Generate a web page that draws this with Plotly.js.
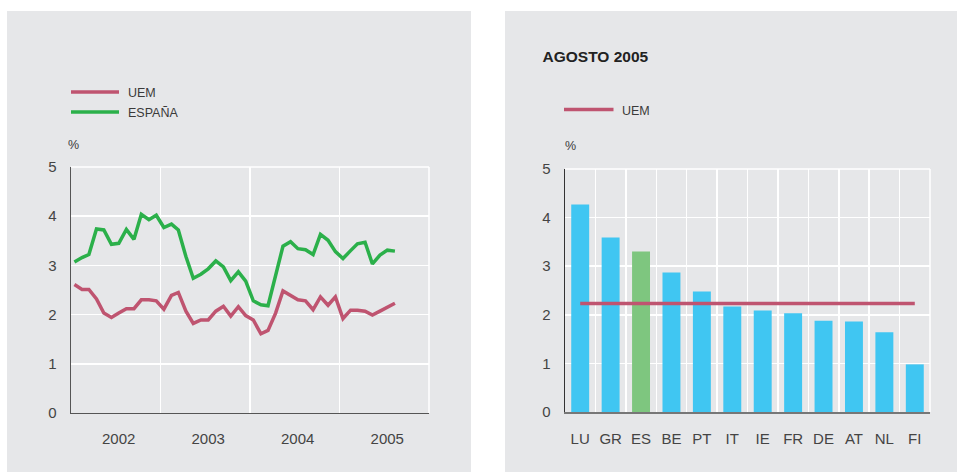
<!DOCTYPE html>
<html>
<head>
<meta charset="utf-8">
<script src="https://cdn.plot.ly/plotly-3.0.1.min.js"></script>
<style>
  html, body { margin: 0; padding: 0; background: #ffffff; width: 958px; height: 472px; overflow: hidden; }
  #left { position: absolute; left: 7px; top: 11px; width: 464px; height: 461px; }
  #right { position: absolute; left: 505px; top: 11px; width: 452px; height: 461px; }
</style>
</head>
<body>
<div id="left"></div>
<div id="right"></div>
<script>
// ---------------- DATA ----------------
// Monthly series, Jan 2002 - Aug 2005 (%)
var startYear = 2002, startMonth = 1;
var uemSeries = [2.61, 2.51, 2.51, 2.32, 2.03, 1.94, 2.03, 2.12, 2.12, 2.30, 2.30, 2.28,
                 2.11, 2.39, 2.45, 2.07, 1.82, 1.89, 1.89, 2.07, 2.17, 1.97, 2.16, 1.98,
                 1.89, 1.61, 1.68, 2.03, 2.48, 2.39, 2.30, 2.28, 2.10, 2.36, 2.19, 2.36,
                 1.92, 2.09, 2.09, 2.07, 1.99, 2.07, 2.15, 2.23];
var espanaSeries = [3.07, 3.16, 3.22, 3.74, 3.72, 3.43, 3.45, 3.73, 3.53, 4.04, 3.93, 4.02,
                    3.77, 3.84, 3.72, 3.18, 2.74, 2.82, 2.93, 3.09, 2.97, 2.69, 2.87, 2.68,
                    2.28, 2.20, 2.18, 2.77, 3.39, 3.48, 3.34, 3.32, 3.22, 3.63, 3.51, 3.28,
                    3.14, 3.30, 3.44, 3.47, 3.03, 3.21, 3.31, 3.29];
var seriesNames = ['UEM', 'ESPAÑA'];

// August 2005 by country (%)
var countries = ['LU', 'GR', 'ES', 'BE', 'PT', 'IT', 'IE', 'FR', 'DE', 'AT', 'NL', 'FI'];
var countryValues = [4.27, 3.59, 3.30, 2.87, 2.48, 2.17, 2.09, 2.03, 1.88, 1.86, 1.64, 0.98];
var uemAugust = 2.23;
var rightTitle = 'AGOSTO 2005';
var unitLabel = '%';

// ---------------- STYLE ----------------
var FONT = 'Liberation Sans, Arial, Helvetica, sans-serif';
var BG = '#E6E7E9';
var GRID = '#ffffff';
var RED = '#BF5470';
var GREEN = '#2BB04A';
var BLUE = '#40C6F2';
var ESGREEN = '#7EC67F';
var TXT = '#3a3a3a';

// monthly dates (mid-month)
var months = [];
for (var i = 0; i < uemSeries.length; i++) {
  var m = startMonth - 1 + i;
  var y = startYear + Math.floor(m / 12);
  var mm = (m % 12) + 1;
  months.push(y + '-' + (mm < 10 ? '0' + mm : mm) + '-15');
}

function px(xPix, m, w) { return (xPix - m.l) / (w - m.l - m.r); }
function py(yPix, m, h) { return 1 - (yPix - m.t) / (h - m.t - m.b); }

// frame lines on top and right edges of plot area (grid at range ends)
var edgeShapes = [
  { type: 'line', xref: 'paper', yref: 'paper', x0: 0, x1: 1, y0: 1, y1: 1,
    layer: 'below', line: { color: GRID, width: 1.5 } },
  { type: 'line', xref: 'paper', yref: 'paper', x0: 1, x1: 1, y0: 0, y1: 1,
    layer: 'below', line: { color: GRID, width: 1.5 } }
];

// ---------------- LEFT CHART ----------------
var LW = 464, LH = 461;
var LM = { l: 64, r: 42, t: 156, b: 59 };

var leftTraces = [
  { type: 'scatter', mode: 'lines', x: months, y: uemSeries, name: seriesNames[0],
    line: { color: RED, width: 3.5 }, hoverinfo: 'skip' },
  { type: 'scatter', mode: 'lines', x: months, y: espanaSeries, name: seriesNames[1],
    line: { color: GREEN, width: 3.5 }, hoverinfo: 'skip' }
];

var leftLayout = {
  width: LW, height: LH, margin: LM,
  paper_bgcolor: BG, plot_bgcolor: BG,
  showlegend: false,
  font: { family: FONT, color: TXT },
  xaxis: {
    type: 'date', range: ['2002-01-01', '2006-01-01'],
    tick0: '2002-01-01', dtick: 'M12', tickformat: '%Y', ticklabelmode: 'period',
    showgrid: true, gridcolor: GRID, gridwidth: 1.5,
    showline: true, linecolor: '#555555', linewidth: 1.3,
    ticks: '', ticklabelstandoff: 12, ticklabelshift: 3, tickangle: 0,
    tickfont: { family: FONT, size: 15, color: '#444444' },
    zeroline: false, fixedrange: true
  },
  yaxis: {
    range: [0, 5], dtick: 1, tick0: 0,
    showgrid: true, gridcolor: GRID, gridwidth: 1.5,
    showline: true, linecolor: '#555555', linewidth: 1.3,
    ticks: '', ticklabelstandoff: 10,
    tickfont: { family: FONT, size: 15, color: '#444444' },
    zeroline: false, fixedrange: true
  },
  shapes: edgeShapes.concat([
    { type: 'line', xref: 'paper', yref: 'paper', x0: px(64, LM, LW), x1: px(112, LM, LW),
      y0: py(81, LM, LH), y1: py(81, LM, LH), line: { color: RED, width: 3.5 } },
    { type: 'line', xref: 'paper', yref: 'paper', x0: px(64, LM, LW), x1: px(112, LM, LW),
      y0: py(101, LM, LH), y1: py(101, LM, LH), line: { color: GREEN, width: 3.5 } }
  ]),
  annotations: [
    { text: seriesNames[0], xref: 'paper', yref: 'paper', x: px(119, LM, LW), y: py(82, LM, LH),
      xanchor: 'left', yanchor: 'middle', showarrow: false, font: { family: FONT, size: 12.5, color: TXT } },
    { text: seriesNames[1], xref: 'paper', yref: 'paper', x: px(119, LM, LW), y: py(102, LM, LH),
      xanchor: 'left', yanchor: 'middle', showarrow: false, font: { family: FONT, size: 12.5, color: TXT } },
    { text: unitLabel, xref: 'paper', yref: 'paper', x: px(59, LM, LW), y: py(134, LM, LH),
      xanchor: 'left', yanchor: 'middle', showarrow: false, font: { family: FONT, size: 12.5, color: TXT } }
  ]
};

Plotly.newPlot('left', leftTraces, leftLayout, { staticPlot: true, displayModeBar: false });

// ---------------- RIGHT CHART ----------------
var RW = 452, RH = 461;
var RM = { l: 60, r: 27, t: 158, b: 60 };

var barColors = countries.map(function (c) { return c === 'ES' ? ESGREEN : BLUE; });

var rightTraces = [
  { type: 'bar', x: countries, y: countryValues, marker: { color: barColors, line: { width: 0 } },
    hoverinfo: 'skip', name: 'países' },
  { type: 'scatter', mode: 'lines', x: [countries[0], countries[countries.length - 1]],
    y: [uemAugust, uemAugust], name: 'UEM', line: { color: RED, width: 3.5 }, hoverinfo: 'skip' }
];

var rightLayout = {
  width: RW, height: RH, margin: RM,
  paper_bgcolor: BG, plot_bgcolor: BG,
  showlegend: false,
  bargap: 0.41,
  font: { family: FONT, color: TXT },
  title: {
    text: rightTitle, xref: 'container', yref: 'container',
    x: 37.5 / RW, xanchor: 'left', y: 1 - 46 / RH, yanchor: 'middle',
    font: { family: FONT, size: 15.5, color: '#222222', weight: 'bold' }
  },
  xaxis: {
    type: 'category', range: [-0.5, countries.length - 0.5], tickson: 'boundaries',
    showgrid: true, gridcolor: GRID, gridwidth: 1.5,
    showline: true, linecolor: '#777777', linewidth: 1.6,
    ticks: '', ticklabelstandoff: 12, tickangle: 0,
    tickfont: { family: FONT, size: 15, color: '#444444' },
    fixedrange: true
  },
  yaxis: {
    range: [0, 5], dtick: 1, tick0: 0,
    showgrid: true, gridcolor: GRID, gridwidth: 1.5,
    showline: true, linecolor: '#333333', linewidth: 1.3,
    ticks: '', ticklabelstandoff: 10,
    tickfont: { family: FONT, size: 15, color: '#444444' },
    zeroline: false, fixedrange: true
  },
  shapes: edgeShapes.concat([
    { type: 'line', xref: 'paper', yref: 'paper', x0: px(59, RM, RW), x1: px(108.5, RM, RW),
      y0: py(98.5, RM, RH), y1: py(98.5, RM, RH), line: { color: RED, width: 3.5 } }
  ]),
  annotations: [
    { text: 'UEM', xref: 'paper', yref: 'paper', x: px(114.5, RM, RW), y: py(100, RM, RH),
      xanchor: 'left', yanchor: 'middle', showarrow: false, font: { family: FONT, size: 12.5, color: TXT } },
    { text: unitLabel, xref: 'paper', yref: 'paper', x: px(57.5, RM, RW), y: py(135, RM, RH),
      xanchor: 'left', yanchor: 'middle', showarrow: false, font: { family: FONT, size: 12.5, color: TXT } }
  ]
};

Plotly.newPlot('right', rightTraces, rightLayout, { staticPlot: true, displayModeBar: false });
</script>
</body>
</html>
